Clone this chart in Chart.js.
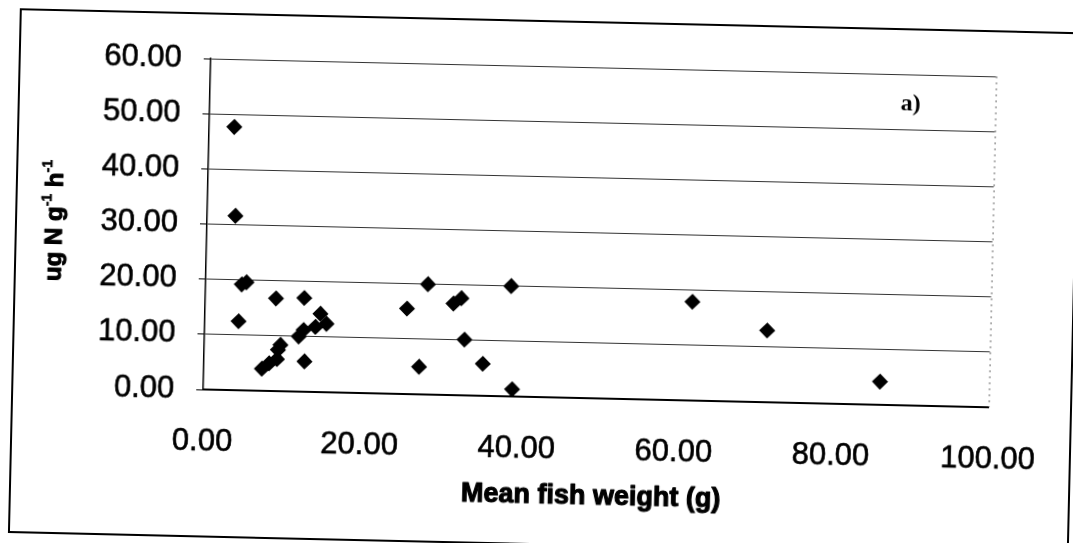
<!DOCTYPE html>
<html>
<head>
<meta charset="utf-8">
<script src="https://cdn.jsdelivr.net/npm/chart.js@4/dist/chart.umd.min.js"></script>
<style>
  html, body { margin: 0; padding: 0; background: #fff; overflow: hidden; }
  #page { position: absolute; left: 0; top: 0; width: 1073px; height: 543px;
          transform: rotate(1.3deg); transform-origin: 536.5px 271.5px; }
  #frame { position: absolute; left: 14px; top: 20px; width: 1061px; height: 525px;
           border: 2px solid #000; box-sizing: border-box; }
  #c { position: absolute; left: 0; top: 0; }
</style>
</head>
<body>
<div id="page">
  <div id="frame"></div>
  <canvas id="c" width="1073" height="543"></canvas>
</div>
<script>
// Mean fish weight (g)
const fishWeight = [3.2, 3.6, 4.6, 5.2, 4.3, 9.0, 12.6, 14.7, 15.5, 14.1, 12.6, 12.0, 9.7, 9.4, 7.4, 8.3, 9.3, 12.8,
                    28.3, 38.9, 25.7, 31.6, 32.6, 33.1, 27.4, 35.5, 39.3, 62.0, 71.6, 86.1];
// ug N g-1 h-1
const excretion  = [47.7, 31.6, 19.2, 19.6, 12.5, 16.8, 17.0, 14.2, 12.4, 11.8, 11.2, 10.0, 8.4, 7.5, 4.0, 5.0, 5.8, 5.5,
                    20.0, 20.0, 15.5, 16.6, 17.6, 10.1, 5.0, 5.8, 1.3, 17.9, 13.0, 4.2];
const xTickValues = [0, 20, 40, 60, 80, 100];
const yTickValues = [0, 10, 20, 30, 40, 50, 60];
const xTitle = 'Mean fish weight (g)';
const yTitleParts = [['ug N g', false], ['-1', true], [' h', false], ['-1', true]];
const panelLabel = 'a)';

const points = fishWeight.map((x, i) => ({ x: x, y: excretion[i] }));

function heavyText(ctx, t, x, y) {
  ctx.fillText(t, x, y);
  ctx.strokeText(t, x, y);
}

const annot = {
  id: 'annot',
  beforeDatasetsDraw(chart) {
    const { ctx, chartArea: a } = chart;
    ctx.save();
    ctx.strokeStyle = '#666';
    ctx.lineWidth = 1;
    ctx.setLineDash([2, 4]);
    ctx.beginPath();
    ctx.moveTo(a.right + 0.5, a.top);
    ctx.lineTo(a.right + 0.5, a.bottom);
    ctx.stroke();
    ctx.restore();
  },
  afterDraw(chart) {
    const { ctx, chartArea: a } = chart;
    ctx.save();
    ctx.fillStyle = '#000';
    ctx.strokeStyle = '#000';
    ctx.lineWidth = 1.1;
    ctx.lineJoin = 'round';
    // x title
    ctx.font = 'bold 27px "Liberation Sans", Arial, sans-serif';
    ctx.textAlign = 'center';
    ctx.textBaseline = 'middle';
    heavyText(ctx, xTitle, (a.left + a.right) / 2 - 3, a.bottom + 99);
    // panel label
    ctx.font = 'bold 24px "Liberation Serif", "Times New Roman", serif';
    ctx.fillText(panelLabel, a.left + 0.892 * (a.right - a.left), a.top + 30);
    // y title with superscripts
    const mainFont = 'bold 24px "Liberation Sans", Arial, sans-serif';
    const supFont = 'bold 14px "Liberation Sans", Arial, sans-serif';
    let total = 0;
    const widths = yTitleParts.map(([t, sup]) => { ctx.font = sup ? supFont : mainFont; const w = ctx.measureText(t).width; total += w; return w; });
    ctx.translate(a.left - 153, (a.top + a.bottom) / 2);
    ctx.rotate(-Math.PI / 2);
    ctx.textAlign = 'left';
    ctx.textBaseline = 'alphabetic';
    let x = -total / 2;
    yTitleParts.forEach(([t, sup], i) => {
      ctx.font = sup ? supFont : mainFont;
      ctx.lineWidth = sup ? 0.6 : 1.0;
      heavyText(ctx, t, x, sup ? -3 : 8);
      x += widths[i];
    });
    ctx.restore();
  }
};

new Chart(document.getElementById('c'), {
  type: 'scatter',
  data: {
    datasets: [{
      data: points,
      pointStyle: 'rectRot',
      pointRadius: 7,
      pointHoverRadius: 7,
      backgroundColor: '#000',
      borderColor: '#000',
      borderWidth: 1.5
    }]
  },
  options: {
    responsive: false,
    animation: false,
    events: [],
    layout: { padding: { left: 0, top: 66, right: 75, bottom: 0 } },
    plugins: { legend: { display: false }, tooltip: { enabled: false } },
    scales: {
      x: {
        type: 'linear',
        min: 0, max: 100,
        afterFit(scale) { scale.height = 146; },
        afterBuildTicks(scale) { scale.ticks = xTickValues.map(v => ({ value: v })); },
        grid: { display: false, drawTicks: false },
        border: { display: true, color: '#000', width: 2 },
        ticks: {
          padding: 34,
          color: '#000',
          textStrokeColor: '#000',
          textStrokeWidth: 0.6,
          maxRotation: 0,
          font: { family: '"Liberation Sans", Arial, sans-serif', size: 31 },
          callback: v => Number(v).toFixed(2)
        }
      },
      y: {
        type: 'linear',
        min: 0, max: 60,
        afterFit(scale) { scale.width = 206; },
        afterBuildTicks(scale) { scale.ticks = yTickValues.map(v => ({ value: v })); },
        grid: { color: '#333', lineWidth: 1, drawTicks: true, tickLength: 7, tickColor: '#000' },
        border: { display: true, color: '#000', width: 1.5 },
        ticks: {
          padding: 22,
          color: '#000',
          textStrokeColor: '#000',
          textStrokeWidth: 0.6,
          font: { family: '"Liberation Sans", Arial, sans-serif', size: 31 },
          callback: v => Number(v).toFixed(2)
        }
      }
    }
  },
  plugins: [annot]
});
</script>
</body>
</html>
